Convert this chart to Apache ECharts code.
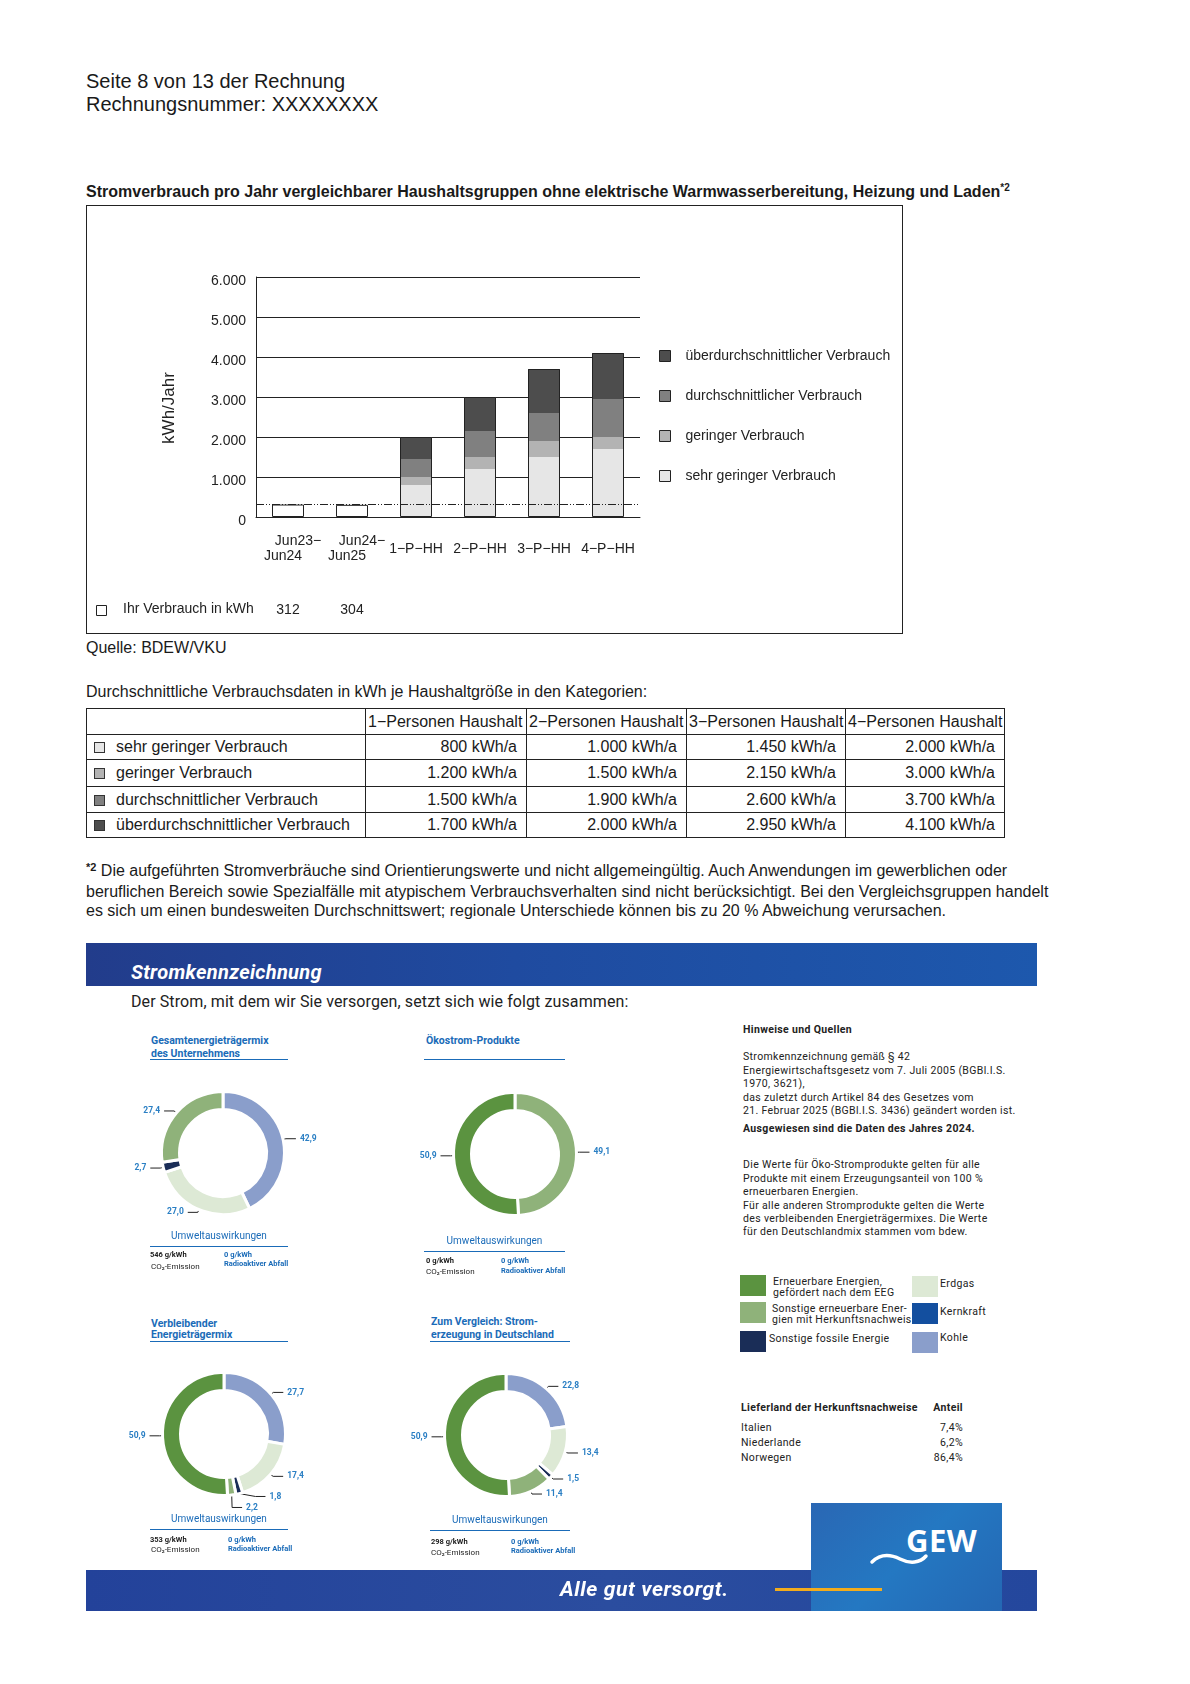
<!DOCTYPE html>
<html>
<head>
<meta charset="utf-8">
<script src="https://cdn.jsdelivr.net/npm/echarts@6/dist/echarts.min.js"></script>
<style>
body{margin:0;background:#fff;}
#page{position:relative;width:1190px;height:1684px;overflow:hidden;font-family:"Liberation Sans",Arial,sans-serif;color:#1a1a1a;background:#fff;}
.t{position:absolute;white-space:nowrap;}
.r{font-family:Roboto,"Noto Sans",sans-serif;}
.s{font-size:10.5px;letter-spacing:0.35px;}
.blue{color:#1a6bb8;}
.ul{position:absolute;height:1.5px;background:#1a6bb8;}
.sq{position:absolute;}
table.vt{position:absolute;left:86px;top:708px;border-collapse:collapse;table-layout:fixed;font-size:16px;color:#1a1a1a;}
table.vt td{border:1px solid #222;padding:0;white-space:nowrap;overflow:hidden;}
table.vt td.num{text-align:right;padding-right:9px;}
table.vt td.hd{text-align:left;padding-left:2px;}
.box{display:inline-block;width:9px;height:9px;border:1px solid #333;vertical-align:-1px;margin:0 11px 0 7px;}
</style>
</head>
<body>
<div id="page">
  <div class="t" style="left:86px;top:69px;font-size:20px;line-height:24px;">Seite 8 von 13 der Rechnung</div>
  <div class="t" style="left:86px;top:92px;font-size:20px;line-height:24px;">Rechnungsnummer: XXXXXXXX</div>
  <div class="t" style="left:86px;top:182px;font-size:16px;line-height:19px;font-weight:bold;">Stromverbrauch pro Jahr vergleichbarer Haushaltsgruppen ohne elektrische Warmwasserbereitung, Heizung und Laden<span style="font-size:10px;position:relative;top:-6px;">*2</span></div>

  <div id="bar" style="position:absolute;left:86px;top:205px;width:817px;height:429px;"></div>
  <div style="position:absolute;left:86px;top:205px;width:815px;height:427px;border:1px solid #222;pointer-events:none;"></div>

  <div class="t" style="left:86px;top:638px;font-size:16px;line-height:19px;">Quelle: BDEW/VKU</div>
  <div class="t" style="left:86px;top:682px;font-size:16px;line-height:19px;">Durchschnittliche Verbrauchsdaten in kWh je Haushaltgröße in den Kategorien:</div>

  <table class="vt" id="vtable"></table>

  <div class="t" style="left:86px;top:861px;font-size:16px;line-height:19.2px;"><span style="font-size:11px;position:relative;top:-5px;font-weight:bold;">*2</span> Die aufgeführten Stromverbräuche sind Orientierungswerte und nicht allgemeingültig. Auch Anwendungen im gewerblichen oder<br>beruflichen Bereich sowie Spezialfälle mit atypischem Verbrauchsverhalten sind nicht berücksichtigt. Bei den Vergleichsgruppen handelt<br>es sich um einen bundesweiten Durchschnittswert; regionale Unterschiede können bis zu 20 % Abweichung verursachen.</div>

  <!-- Stromkennzeichnung banner -->
  <div style="position:absolute;left:86px;top:943px;width:951px;height:43px;background:linear-gradient(90deg,#223c8b 0%,#1f4ba0 45%,#1d58ad 100%);"></div>
  <div class="t r" style="left:131px;top:960px;font-size:20px;line-height:25px;color:#fff;font-weight:bold;font-style:italic;letter-spacing:0.3px;">Stromkennzeichnung</div>
  <div class="t r" style="left:131px;top:992px;font-size:16px;line-height:20px;color:#222;letter-spacing:0.1px;">Der Strom, mit dem wir Sie versorgen, setzt sich wie folgt zusammen:</div>

  <!-- donut titles -->
  <div class="t r blue" style="left:151px;top:1033.5px;font-size:10.5px;line-height:13px;font-weight:bold;">Gesamtenergieträgermix<br>des Unternehmens</div>
  <div class="ul" style="left:150px;top:1058.5px;width:138px;"></div>
  <div class="t r blue" style="left:426px;top:1033.5px;font-size:10.5px;line-height:13px;font-weight:bold;">Ökostrom-Produkte</div>
  <div class="ul" style="left:424px;top:1058.5px;width:141px;"></div>
  <div class="t r blue" style="left:151px;top:1317.5px;font-size:10.5px;line-height:11px;font-weight:bold;">Verbleibender<br>Energieträgermix</div>
  <div class="ul" style="left:150px;top:1340.5px;width:138px;"></div>
  <div class="t r blue" style="left:431px;top:1314.5px;font-size:10.5px;line-height:13px;font-weight:bold;">Zum Vergleich: Strom-<br>erzeugung in Deutschland</div>
  <div class="ul" style="left:430px;top:1340.5px;width:140px;"></div>

  <div id="donuts" style="position:absolute;left:86px;top:1000px;width:620px;height:580px;"></div>

  <!-- Umweltauswirkungen blocks -->
  <div class="t r blue" style="left:150px;width:138px;text-align:center;top:1228.5px;font-size:10px;line-height:13px;">Umweltauswirkungen</div>
  <div class="ul" style="left:150px;top:1245.5px;width:138px;"></div>
  <div class="t r" style="left:150px;top:1250px;font-size:7.5px;line-height:9px;font-weight:bold;color:#222;">546 g/kWh</div>
  <div class="t r" style="left:151px;top:1261.5px;font-size:8px;line-height:9px;color:#222;">CO₂-Emission</div>
  <div class="t r blue" style="left:224px;top:1250px;font-size:7.5px;line-height:9px;font-weight:bold;">0 g/kWh<br>Radioaktiver Abfall</div>

  <div class="t r blue" style="left:424px;width:141px;text-align:center;top:1233.5px;font-size:10px;line-height:13px;">Umweltauswirkungen</div>
  <div class="ul" style="left:424px;top:1250.5px;width:141px;"></div>
  <div class="t r" style="left:426px;top:1255.5px;font-size:7.5px;line-height:9px;font-weight:bold;color:#222;">0 g/kWh</div>
  <div class="t r" style="left:426px;top:1266.5px;font-size:8px;line-height:9px;color:#222;">CO₂-Emission</div>
  <div class="t r blue" style="left:501px;top:1255.5px;font-size:7.5px;line-height:10px;font-weight:bold;">0 g/kWh<br>Radioaktiver Abfall</div>

  <div class="t r blue" style="left:150px;width:138px;text-align:center;top:1511.5px;font-size:10px;line-height:13px;">Umweltauswirkungen</div>
  <div class="ul" style="left:150px;top:1528.5px;width:138px;"></div>
  <div class="t r" style="left:150px;top:1534.5px;font-size:7.5px;line-height:9px;font-weight:bold;color:#222;">353 g/kWh</div>
  <div class="t r" style="left:151px;top:1544.5px;font-size:8px;line-height:9px;color:#222;">CO₂-Emission</div>
  <div class="t r blue" style="left:228px;top:1534.5px;font-size:7.5px;line-height:9px;font-weight:bold;">0 g/kWh<br>Radioaktiver Abfall</div>

  <div class="t r blue" style="left:430px;width:140px;text-align:center;top:1512.5px;font-size:10px;line-height:13px;">Umweltauswirkungen</div>
  <div class="ul" style="left:430px;top:1529.5px;width:140px;"></div>
  <div class="t r" style="left:431px;top:1536.5px;font-size:7.5px;line-height:9px;font-weight:bold;color:#222;">298 g/kWh</div>
  <div class="t r" style="left:431px;top:1547.5px;font-size:8px;line-height:9px;color:#222;">CO₂-Emission</div>
  <div class="t r blue" style="left:511px;top:1536.5px;font-size:7.5px;line-height:9px;font-weight:bold;">0 g/kWh<br>Radioaktiver Abfall</div>

  <!-- Hinweise -->
  <div class="t r s" style="left:743px;top:1022.5px;line-height:13px;font-weight:bold;color:#222;">Hinweise und Quellen</div>
  <div class="t r s" style="left:743px;top:1050.3px;line-height:13.4px;color:#222;">Stromkennzeichnung gemäß § 42<br>Energiewirtschaftsgesetz vom 7. Juli 2005 (BGBl.I.S.<br>1970, 3621),<br>das zuletzt durch Artikel 84 des Gesetzes vom<br>21. Februar 2025 (BGBl.I.S. 3436) geändert worden ist.</div>
  <div class="t r s" style="left:743px;top:1121.5px;line-height:13px;font-weight:bold;color:#222;">Ausgewiesen sind die Daten des Jahres 2024.</div>
  <div class="t r s" style="left:743px;top:1158.3px;line-height:13.4px;color:#222;">Die Werte für Öko-Stromprodukte gelten für alle<br>Produkte mit einem Erzeugungsanteil von 100 %<br>erneuerbaren Energien.<br>Für alle anderen Stromprodukte gelten die Werte<br>des verbleibenden Energieträgermixes. Die Werte<br>für den Deutschlandmix stammen vom bdew.</div>

  <!-- Legend -->
  <div id="mixlegend"></div>

  <!-- Lieferland -->
  <div class="t r s" style="left:741px;top:1400.5px;line-height:13px;font-weight:bold;color:#222;">Lieferland der Herkunftsnachweise</div>
  <div class="t r s" style="left:903px;width:60px;text-align:right;top:1400.5px;line-height:13px;font-weight:bold;color:#222;">Anteil</div>
  <div id="lieferland"></div>

  <!-- bottom banner -->
  <div style="position:absolute;left:86px;top:1570px;width:951px;height:41px;background:linear-gradient(90deg,#23429a 0%,#2b4d9f 55%,#24479d 100%);"></div>
  <div style="position:absolute;left:811px;top:1503px;width:191px;height:108px;background:linear-gradient(135deg,#2a67b4 0%,#2478c2 50%,#2467b3 100%);"></div>
  <div style="position:absolute;left:775px;top:1587.5px;width:107px;height:3px;background:#f3ac1c;"></div>
  <div class="t r" style="left:560px;top:1576px;font-size:21px;line-height:26px;color:#fff;font-weight:bold;font-style:italic;letter-spacing:0.6px;">Alle gut versorgt.</div>
  <div class="t" style="left:906px;top:1522px;font-family:'Open Sans',Roboto,sans-serif;font-size:31px;line-height:36px;color:#fff;font-weight:bold;letter-spacing:0.5px;">GEW</div>
  <svg style="position:absolute;left:868px;top:1548px;" width="64" height="20" viewBox="0 0 64 20">
    <path d="M4 14 C 12 6, 22 6, 32 11 C 42 16, 52 15, 58 8" fill="none" stroke="#fff" stroke-width="3.5" stroke-linecap="round"/>
  </svg>
</div>

<script>
// ---------- Bar chart data ----------
const barCategories = ['Jun23−\nJun24', 'Jun24−\nJun25', '1−P−HH', '2−P−HH', '3−P−HH', '4−P−HH'];
const ihrVerbrauch = [312, 304, null, null, null, null];
const sehrGering = [null, null, 800, 1200, 1500, 1700];
const gering = [null, null, 1000, 1500, 1900, 2000];
const durchschnittlich = [null, null, 1450, 2150, 2600, 2950];
const ueberdurchschnittlich = [null, null, 2000, 3000, 3700, 4100];
const yMax = 6000;
const yStep = 1000;
const seriesNames = ['überdurchschnittlicher Verbrauch', 'durchschnittlicher Verbrauch', 'geringer Verbrauch', 'sehr geringer Verbrauch'];
const greyColors = ['#4d4d4d', '#808080', '#b3b3b3', '#e6e6e6'];

// ---------- Table data ----------
const tableHeader = ['', '1−Personen Haushalt', '2−Personen Haushalt', '3−Personen Haushalt', '4−Personen Haushalt'];
const tableRowLabels = ['sehr geringer Verbrauch', 'geringer Verbrauch', 'durchschnittlicher Verbrauch', 'überdurchschnittlicher Verbrauch'];
const tableRowColors = ['#e6e6e6', '#b3b3b3', '#808080', '#4d4d4d'];
const tableSehrGering = [800, 1000, 1450, 2000];
const tableGering = [1200, 1500, 2150, 3000];
const tableDurchschnittlich = [1500, 1900, 2600, 3700];
const tableUeber = [1700, 2000, 2950, 4100];

// ---------- Donut data ----------
const mixLabels = {
  EEG: 'Erneuerbare Energien,<br>gefördert nach dem EEG',
  SonstErn: 'Sonstige erneuerbare Ener-<br>gien mit Herkunftsnachweis',
  Fossil: 'Sonstige fossile Energie',
  Erdgas: 'Erdgas',
  Kernkraft: 'Kernkraft',
  Kohle: 'Kohle'
};
const mixColors = { EEG: '#5b9340', SonstErn: '#8fb27a', Fossil: '#1a2d57', Erdgas: '#dde9d5', Kernkraft: '#134f9f', Kohle: '#8a9ecb' };
const gesamtmixKeys = ['Kohle', 'Erdgas', 'Fossil', 'SonstErn'];
const gesamtmixValues = [42.9, 27.0, 2.7, 27.4];
const oekostromKeys = ['SonstErn', 'EEG'];
const oekostromValues = [49.1, 50.9];
const restmixKeys = ['Kohle', 'Erdgas', 'Fossil', 'SonstErn', 'EEG'];
const restmixValues = [27.7, 17.4, 1.8, 2.2, 50.9];
const deutschlandKeys = ['Kohle', 'Erdgas', 'Fossil', 'SonstErn', 'EEG'];
const deutschlandValues = [22.8, 13.4, 1.5, 11.4, 50.9];

const lieferlandNames = ['Italien', 'Niederlande', 'Norwegen'];
const lieferlandShares = ['7,4%', '6,2%', '86,4%'];

function fmtThousands(v) { return String(v).replace(/\B(?=(\d{3})+(?!\d))/g, '.'); }

// ---------- Table ----------
(function () {
  const rows = [tableSehrGering, tableGering, tableDurchschnittlich, tableUeber];
  const widths = [279, 161, 160, 159, 159];
  let html = '<colgroup>' + widths.map(w => '<col style="width:' + w + 'px">').join('') + '</colgroup>';
  html += '<tr style="height:26px">' + tableHeader.map(h => '<td class="hd">' + h + '</td>').join('') + '</tr>';
  const hs = [25, 27, 26, 25];
  rows.forEach((r, i) => {
    html += '<tr style="height:' + hs[i] + 'px"><td><span class="box" style="background:' + tableRowColors[i] + '"></span>' + tableRowLabels[i] + '</td>' +
      r.map(v => '<td class="num">' + fmtThousands(v) + ' kWh/a</td>').join('') + '</tr>';
  });
  document.getElementById('vtable').innerHTML = html;
})();

// ---------- Mix legend ----------
(function () {
  const items = [
    { k: 'EEG', sx: 740, sy: 1275, tx: 773, ty: 1275.5, lh: 11 },
    { k: 'SonstErn', sx: 740, sy: 1302, tx: 772, ty: 1302.5, lh: 11 },
    { k: 'Fossil', sx: 740, sy: 1331, tx: 769, ty: 1333, lh: 12 },
    { k: 'Erdgas', sx: 912, sy: 1276, tx: 940, ty: 1278, lh: 12 },
    { k: 'Kernkraft', sx: 912, sy: 1303, tx: 940, ty: 1306, lh: 12 },
    { k: 'Kohle', sx: 912, sy: 1332, tx: 940, ty: 1332, lh: 12 }
  ];
  let html = '';
  items.forEach(it => {
    html += '<div class="sq" style="left:' + it.sx + 'px;top:' + it.sy + 'px;width:26px;height:21px;background:' + mixColors[it.k] + '"></div>';
    html += '<div class="t r s" style="left:' + it.tx + 'px;top:' + it.ty + 'px;line-height:' + it.lh + 'px;color:#222;">' + mixLabels[it.k] + '</div>';
  });
  document.getElementById('mixlegend').innerHTML = html;
  let lh = '';
  lieferlandNames.forEach((n, i) => {
    const y = 1420.5 + i * 15;
    lh += '<div class="t r s" style="left:741px;top:' + y + 'px;line-height:13px;color:#222;">' + n + '</div>';
    lh += '<div class="t r s" style="left:903px;width:60px;text-align:right;top:' + y + 'px;line-height:13px;color:#222;">' + lieferlandShares[i] + '</div>';
  });
  document.getElementById('lieferland').innerHTML = lh;
})();

// ---------- Bar chart ----------
const bar = echarts.init(document.getElementById('bar'), null, { renderer: 'canvas' });
const baseFont = 'Liberation Sans';
const barSeries = [ueberdurchschnittlich, durchschnittlich, gering, sehrGering].map((d, i) => ({
  name: seriesNames[i],
  type: 'bar',
  data: d,
  barWidth: 32,
  barGap: '-100%',
  itemStyle: { color: greyColors[i] },
  silent: true
}));
bar.setOption({
  animation: false,
  textStyle: { fontFamily: baseFont },
  grid: { left: 170, top: 72, width: 384, height: 240, containLabel: false },
  legend: {
    orient: 'vertical',
    left: 568,
    top: 139,
    itemWidth: 11,
    itemHeight: 11,
    itemGap: 26,
    icon: 'rect',
    selectedMode: false,
    data: seriesNames,
    itemStyle: { borderColor: '#222', borderWidth: 1 },
    textStyle: { fontFamily: baseFont, fontSize: 14, color: '#222', padding: [0, 0, 0, 10] }
  },
  xAxis: [
    {
      type: 'category',
      data: barCategories,
      axisLine: { lineStyle: { color: '#222', width: 1 } },
      axisTick: { show: false },
      axisLabel: {
        interval: 0,
        margin: 32,
        verticalAlign: 'middle',
        fontSize: 14,
        lineHeight: 15,
        color: '#222',
        formatter: function (v) {
          if (v.indexOf('\n') >= 0) {
            const p = v.split('\n');
            return '{a|' + p[0] + '}\n{b|' + p[1] + '}';
          }
          return v;
        },
        rich: {
          a: { fontSize: 14, lineHeight: 15, color: '#222', fontFamily: baseFont, padding: [0, 0, 0, 20] },
          b: { fontSize: 14, lineHeight: 15, color: '#222', fontFamily: baseFont, padding: [0, 10, 0, 0] }
        }
      }
    },
    {
      type: 'category',
      gridIndex: 0,
      position: 'bottom',
      offset: 93,
      data: ihrVerbrauch.map(v => (v == null ? '' : String(v))),
      axisLine: { show: false },
      axisTick: { show: false },
      axisLabel: { interval: 0, margin: 0, verticalAlign: 'middle', fontSize: 14, color: '#222' }
    }
  ],
  yAxis: {
    type: 'value',
    min: 0,
    max: yMax,
    interval: yStep,
    name: 'kWh/Jahr',
    nameLocation: 'middle',
    nameRotate: 90,
    nameGap: 78,
    nameTextStyle: { fontSize: 17, color: '#222', padding: [0, 22, 0, 0] },
    axisLine: { show: true, lineStyle: { color: '#222', width: 1 } },
    axisTick: { show: false },
    splitLine: { lineStyle: { color: '#222', width: 1 } },
    axisLabel: {
      margin: 10,
      color: '#222',
      verticalAlign: 'middle',
      formatter: v => '{v|' + fmtThousands(v) + '}',
      rich: { v: { fontSize: 14, color: '#222', fontFamily: baseFont, padding: [9, 0, 0, 0] } }
    }
  },
  graphic: [
    { type: 'rect', left: 10, top: 400, shape: { width: 10, height: 10 }, style: { fill: '#fff', stroke: '#222', lineWidth: 1 } },
    { type: 'text', left: 37, top: 397, style: { text: 'Ihr Verbrauch in kWh', fontSize: 14, fontFamily: baseFont, fill: '#222' } }
  ],
  series: barSeries.concat([
    {
      name: 'Umriss',
      type: 'bar',
      data: ueberdurchschnittlich,
      barWidth: 32,
      barGap: '-100%',
      itemStyle: { color: 'rgba(0,0,0,0)', borderColor: '#222', borderWidth: 1 },
      silent: true
    },
    {
      name: 'Ihr Verbrauch in kWh',
      type: 'bar',
      data: ihrVerbrauch,
      barWidth: 32,
      barGap: '-100%',
      itemStyle: { color: '#fff', borderColor: '#222', borderWidth: 1 },
      silent: true,
      markLine: {
        silent: true,
        symbol: 'none',
        label: { show: false },
        lineStyle: { color: '#222', width: 1, type: [8, 2, 1, 2, 1, 2] },
        data: [{ yAxis: ihrVerbrauch[0] }]
      }
    }
  ])
});

// ---------- Donuts ----------
const donuts = echarts.init(document.getElementById('donuts'), null, { renderer: 'canvas' });
function pieSeries(keys, values, center) {
  return {
    type: 'pie',
    center: center,
    radius: [43.5, 61.5],
    startAngle: 90,
    clockwise: true,
    avoidLabelOverlap: true,
    silent: true,
    itemStyle: { borderColor: '#fff', borderWidth: 3 },
    label: {
      show: true,
      position: 'outside',
      color: '#2a7fc4',
      fontSize: 8.5,
      fontWeight: 'bold',
      fontFamily: 'Roboto',
      distanceToLabelLine: 4,
      formatter: p => p.value.toFixed(1).replace('.', ',')
    },
    labelLine: { show: true, length: 3, length2: 10, lineStyle: { color: '#222', width: 1 } },
    data: keys.map((k, i) => ({ name: k, value: values[i], itemStyle: { color: mixColors[k] } }))
  };
}
donuts.setOption({
  animation: false,
  series: [
    pieSeries(gesamtmixKeys, gesamtmixValues, [137, 153]),
    pieSeries(oekostromKeys, oekostromValues, [429, 154]),
    pieSeries(restmixKeys, restmixValues, [138, 434]),
    pieSeries(deutschlandKeys, deutschlandValues, [420, 435])
  ]
});
</script>
</body>
</html>
